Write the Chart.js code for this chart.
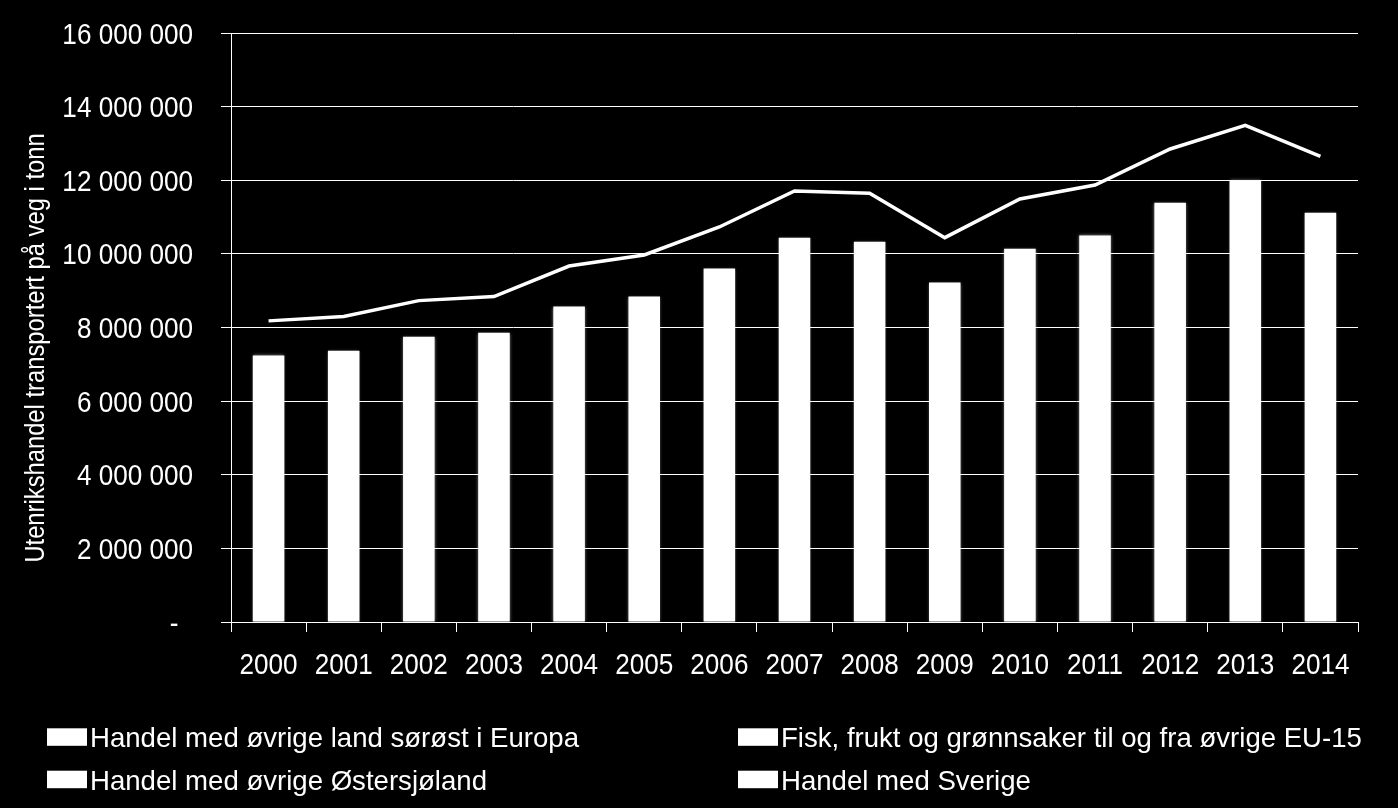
<!DOCTYPE html>
<html>
<head>
<meta charset="utf-8">
<script src="https://cdn.jsdelivr.net/npm/chart.js@4.4.1/dist/chart.umd.min.js"></script>
<style>
  html, body { margin:0; padding:0; background:#000; }
  #wrap { position:relative; width:1398px; height:808px; background:#000; overflow:hidden; }
  #c { position:absolute; left:0; top:0; }
</style>
</head>
<body>
<div id="wrap">
  <canvas id="c" width="1398" height="808"></canvas>
</div>
<script>
// ---- data ----
const years = ["2000","2001","2002","2003","2004","2005","2006","2007","2008","2009","2010","2011","2012","2013","2014"];
const barValues = [7240000, 7370000, 7750000, 7860000, 8570000, 8840000, 9600000, 10440000, 10330000, 9220000, 10140000, 10500000, 11390000, 12000000, 11120000];
const lineValues = [8180000, 8300000, 8730000, 8840000, 9670000, 9970000, 10730000, 11710000, 11650000, 10440000, 11490000, 11870000, 12850000, 13490000, 12650000];
const legendLabels = [
  "Handel med øvrige land sørøst i Europa",
  "Fisk, frukt og grønnsaker til og fra øvrige EU-15",
  "Handel med øvrige Østersjøland",
  "Handel med Sverige"
];
const yTitle = "Utenrikshandel transportert på veg i tonn";
const yMax = 16000000;
const yStep = 2000000;

const FONT = '"Liberation Sans", Arial, sans-serif';

function fmt(v) {
  if (v === 0) return "-  ";
  return String(v).replace(/\B(?=(\d{3})+(?!\d))/g, " ");
}

// soft glow on bars
const glow = {
  id: 'glow',
  beforeDatasetDraw(chart, args) {
    const ctx = chart.ctx;
    ctx.save();
    if (args.meta.type === 'bar') {
      ctx.shadowColor = 'rgba(200,200,200,0.6)';
      ctx.shadowBlur = 3;
    }
  },
  afterDatasetDraw(chart) { chart.ctx.restore(); }
};

// condensed text: tick labels, axis title and legend, drawn from the chart's own scales
function narrowText(ctx, text, x, y, size, sx, align) {
  ctx.save();
  ctx.translate(x, y);
  ctx.scale(sx, 1);
  ctx.font = size + 'px ' + FONT;
  ctx.fillStyle = '#fff';
  ctx.textAlign = align;
  ctx.textBaseline = 'alphabetic';
  ctx.fillText(text, 0, 0);
  ctx.restore();
}

const textPlugin = {
  id: 'narrowLabels',
  afterDraw(chart) {
    const ctx = chart.ctx;
    const ys = chart.scales.y, xs = chart.scales.x;
    // y tick labels
    ys.ticks.forEach((t, i) => {
      const y = ys.getPixelForTick(i);
      narrowText(ctx, fmt(t.value), ys.right - 38, y + 10.5, 29, 0.90, 'right');
    });
    // x tick labels
    xs.ticks.forEach((t, i) => {
      const x = xs.getPixelForTick(i);
      narrowText(ctx, years[i], x, xs.top + 51.5, 30, 0.87, 'center');
    });
    // y title
    ctx.save();
    ctx.translate(44, 348);
    ctx.rotate(-Math.PI / 2);
    ctx.scale(0.88, 1);
    ctx.font = '27px ' + FONT;
    ctx.fillStyle = '#fff';
    ctx.textAlign = 'center';
    ctx.textBaseline = 'alphabetic';
    ctx.fillText(yTitle, 0, 0);
    ctx.restore();
    // legend (two columns)
    const cols = [47, 738], rows = [747.3, 789.7];
    legendLabels.forEach((lab, i) => {
      const bx = cols[i % 2], by = rows[Math.floor(i / 2)];
      ctx.fillStyle = '#fff';
      ctx.fillRect(bx, by - 19, 40, 17.5);
      narrowText(ctx, lab, bx + 43, by, 28, 0.985, 'left');
    });
  }
};

new Chart(document.getElementById('c'), {
  type: 'bar',
  data: {
    labels: years,
    datasets: [
      { type:'line', label: legendLabels[3], data: lineValues, borderColor:'#fff', borderWidth:3.5,
        pointRadius:0, tension:0, order:0, fill:false },
      { type:'bar', label: legendLabels[0], data: barValues, backgroundColor:'#fff',
        barPercentage:0.42, categoryPercentage:1, order:1 }
    ]
  },
  plugins: [glow, textPlugin],
  options: {
    responsive:false, maintainAspectRatio:false, animation:false,
    layout: { padding: { top:33, right:40, bottom:116, left:0 } },
    plugins: { legend:{ display:false }, tooltip:{ enabled:false } },
    scales: {
      x: {
        grid: { display:true, drawOnChartArea:false, drawTicks:true, tickLength:10, color:'#fff', lineWidth:1, offset:true },
        border: { color:'#fff', width:1 },
        ticks: { display:false, autoSkip:false },
        afterFit(s) { s.height = 70; }
      },
      y: {
        min:0, max:yMax,
        grid: { color:'#fff', lineWidth:1, tickLength:10, drawTicks:true },
        border: { color:'#fff', width:1 },
        ticks: { display:false, stepSize:yStep },
        afterFit(s) { s.width = 231; }
      }
    }
  }
});
</script>
</body>
</html>
